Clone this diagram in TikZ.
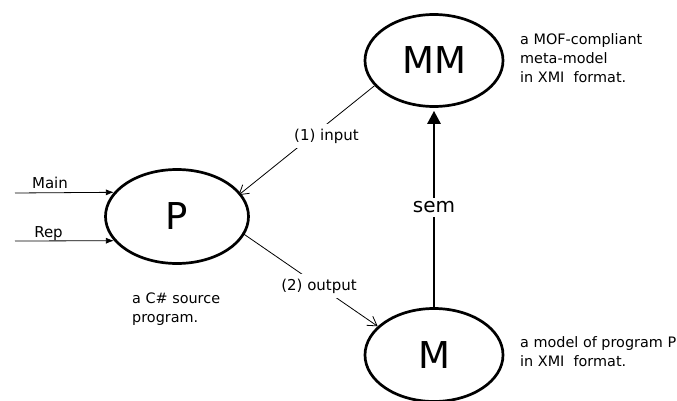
\documentclass[tikz,border=0pt]{standalone}
\usepackage{fontspec}
\setmainfont{DejaVu Sans}
\usetikzlibrary{arrows.meta,shapes.geometric}
\begin{document}
\begin{tikzpicture}[x=1pt,y=-1pt,
  bubble/.style={ellipse,draw,line width=2.7pt,inner sep=0pt,
    font=\fontsize{37}{40}\selectfont},
  note/.style={align=left,anchor=base west,inner sep=0pt,
    font=\fontsize{14.4}{19}\selectfont},
  lbl/.style={inner sep=0pt,font=\fontsize{15}{18}\selectfont},
  cut/.style={fill=white,inner sep=5pt,font=\fontsize{15}{18}\selectfont},
  thinarrow/.style={line width=0.8pt,-{Straight Barb[length=9pt,width=11pt,line width=0.8pt]}},
  inarrow/.style={line width=0.8pt,-{Latex[length=8pt,width=6pt]}},
  semarrow/.style={line width=2.7pt,-{Triangle[length=13pt,width=13pt]},shorten >=3pt},
]
\useasboundingbox (0,0) rectangle (677,401);

\node[bubble,minimum width=143pt,minimum height=94pt] (P) at (177,216.5) {P};
\node[bubble,minimum width=138pt,minimum height=92pt] (MM) at (434,60.5) {MM};
\node[bubble,minimum width=138pt,minimum height=93pt] (M) at (434,355) {M};

% inputs of P
\coordinate (mainS) at (15,193);
\coordinate (repS) at (15,241);
\draw[inarrow] (mainS) -- (P.159);
\draw[inarrow] (repS) -- (P.201);
\node[lbl,anchor=base] (mainL) at (50,188) {Main};
\node[lbl,anchor=base] (repL) at (48.5,237) {Rep};

% (1) input
\draw[thinarrow,shorten >=-3pt] (MM.203) -- (P.20);
\node[cut] (inL) at (326.5,136) {(1) input};

% (2) output
\draw[thinarrow,shorten <=-3pt] (P.-15) -- (M.153);
\node[cut] (outL) at (319,286) {(2) output};

% sem
\draw[semarrow] (M.north) -- (MM.south)
  node[midway,fill=white,inner sep=4pt,font=\fontsize{20}{22}\selectfont] (semL) {sem};

% notes (anchor = baseline of last line)
\node[note] (mmN) at (520,83) {a MOF-compliant\\meta-model\\in XMI~~format.};
\node[note] (mN) at (520,366) {a model of program P\\in XMI~~format.};
\node[note] (pN) at (132,322) {a C\# source\\program.};
\end{tikzpicture}
\end{document}
